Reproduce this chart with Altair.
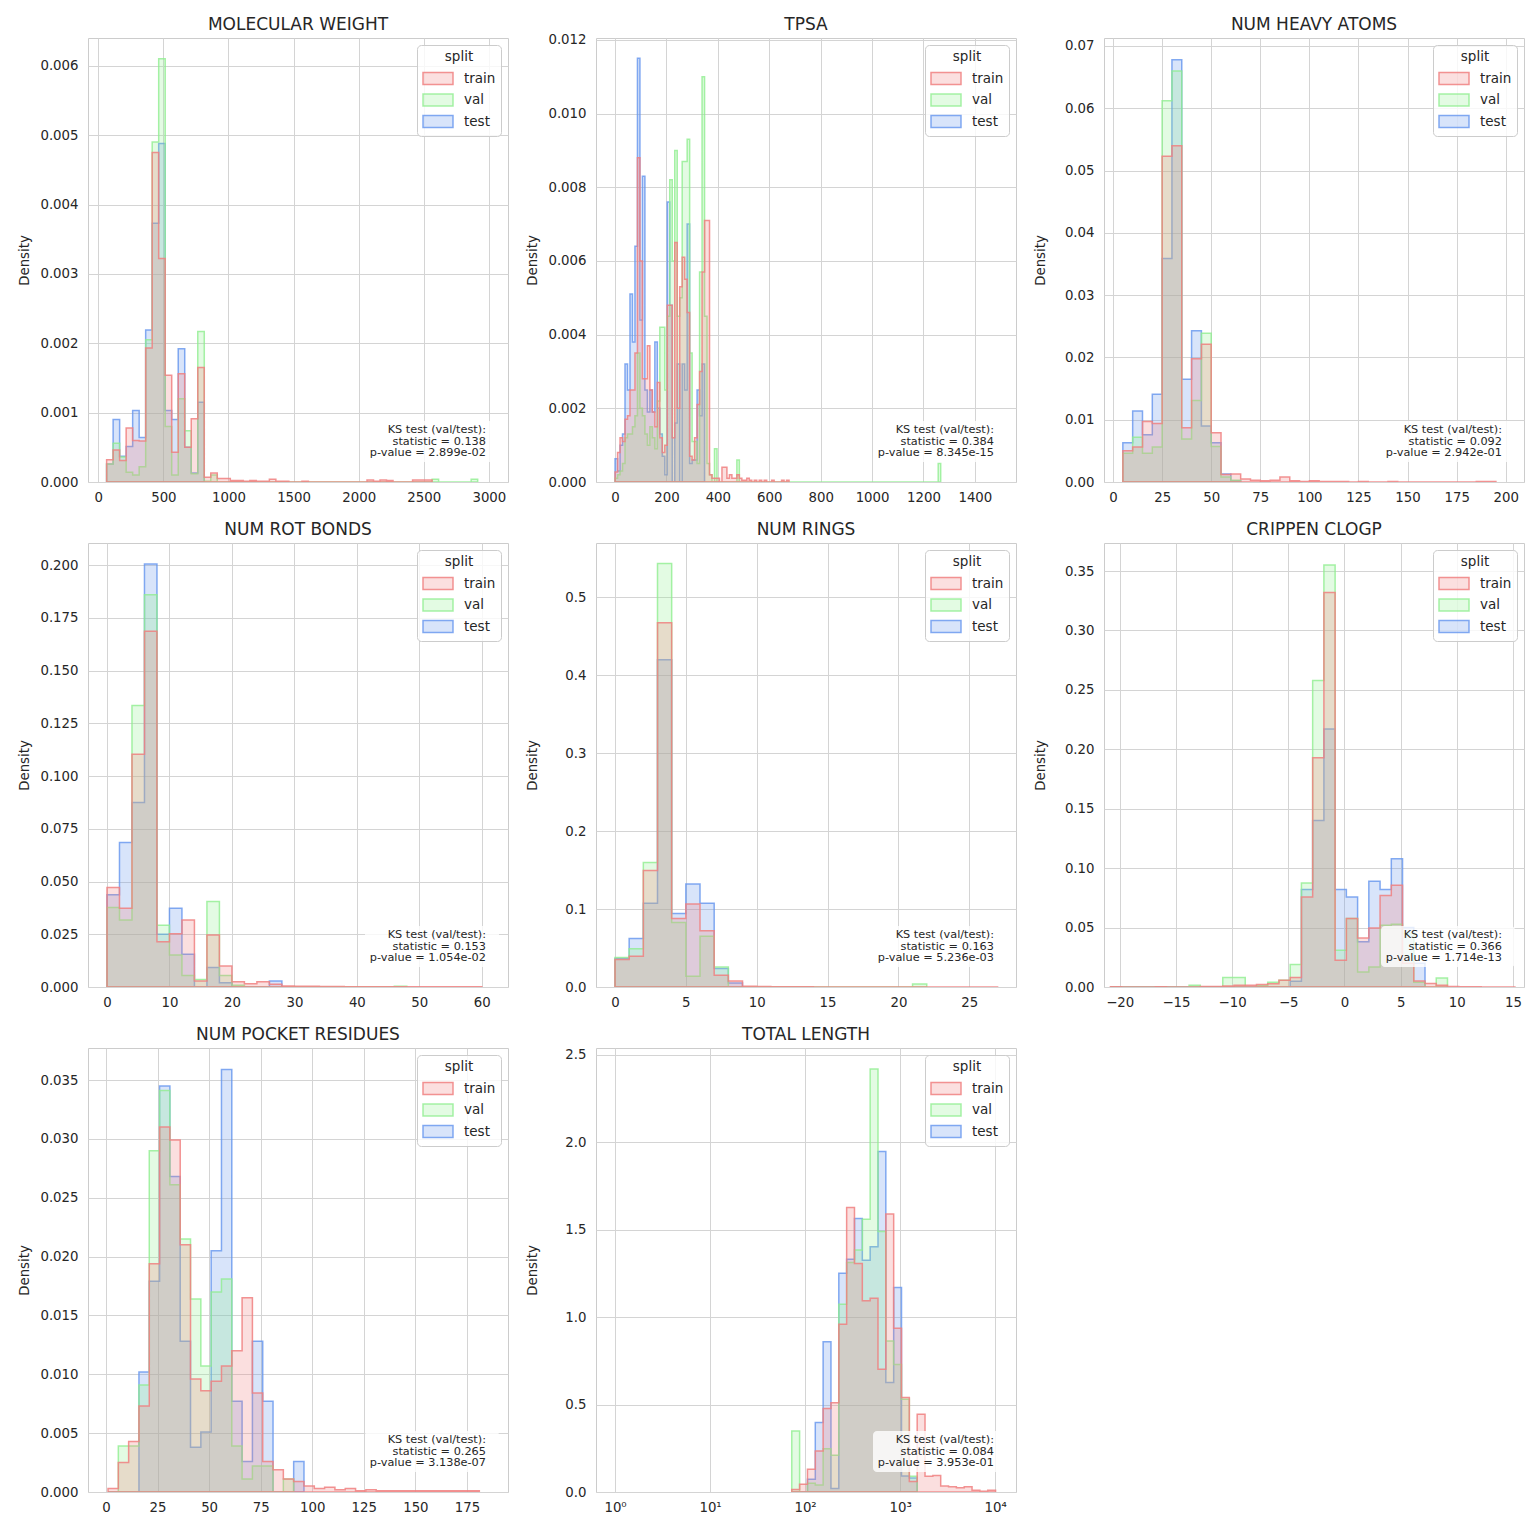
import altair as alt
import pandas as pd

FONT = "DejaVu Sans"
TEXT = "#262626"
GRID = "#d4d4d4"
W, H = 420, 444

SPLITS = ["train", "val", "test"]
SPLIT_FILL = ["rgba(240,128,128,0.25)", "rgba(144,238,144,0.25)", "rgba(100,149,237,0.25)"]
SPLIT_LINE = ["rgba(240,128,128,0.85)", "rgba(144,238,144,0.8)", "rgba(100,149,237,0.8)"]
DRAW_ORDER = ["test", "val", "train"]

TITLES = ["MOLECULAR WEIGHT", "TPSA", "NUM HEAVY ATOMS", "NUM ROT BONDS",
          "NUM RINGS", "CRIPPEN CLOGP", "NUM POCKET RESIDUES", "TOTAL LENGTH"]
TITLE_DY = [0, 5, 0, 0, 0, 0, 0, 0]

# histogram bins: first edge and bin width (TOTAL LENGTH in log10 units)
BIN_START = [64, 0.2, 5, 0, 0, -20.83, 1, 1.86]
BIN_WIDTH = [50, 9.67, 5, 2, 1, 1, 5, 0.0825]
LOG_X = [False, False, False, False, False, False, False, True]

MW_TRAIN = [0.00032, 0.00046, 0.00031, 0.00078, 0.00060, 0.00059, 0.00193, 0.00475, 0.00322, 0.00154,
            0.00043, 0.00156, 0.00050, 0.00091, 0.00165, 0.00007, 0.00013, 0.00005, 0.00005, 0.00002,
            0.00002, 0.00001, 0.00002, 0.00001, 0.00001, 0.00004, 0.00001, 0.00001, 0.0, 0.0,
            0.00001, 0.0, 0.0, 0.0, 0.0, 0.0, 0.0, 0.0, 0.0, 0.0,
            0.00003, 0.00001, 0.00003, 0.00002, 0.0, 0.0, 0.0, 0.00003, 0.00003, 0.00003]
MW_VAL = [0.00026, 0.00056, 0.00036, 0.00014, 0.00010, 0.00022, 0.00205, 0.00490, 0.00610, 0.00080,
          0.00010, 0.00120, 0.00074, 0.00012, 0.00217, 0.00001, 0.00010, 0.0, 0.0, 0.0,
          0.0, 0.0, 0.0, 0.0, 0.0, 0.0, 0.0, 0.0, 0.0, 0.0,
          0.0, 0.0, 0.0, 0.0, 0.0, 0.0, 0.0, 0.0, 0.0, 0.0,
          0.0, 0.0, 0.0, 0.0, 0.0, 0.0, 0.0, 0.0, 0.0, 0.0,
          0.00004, 0.0, 0.0, 0.0, 0.0, 0.0, 0.00004]
MW_TEST = [0.00026, 0.00090, 0.00037, 0.00051, 0.00103, 0.00064, 0.00219, 0.00373, 0.00488, 0.00103,
           0.00090, 0.00192, 0.00050, 0.00013, 0.00115]

TPSA_TRAIN = [0.00027, 0.0008, 0.0012, 0.0011, 0.0017, 0.0018, 0.0025, 0.0025, 0.0035, 0.0088,
              0.0060, 0.0028, 0.0028, 0.0037, 0.0025, 0.0019, 0.0015, 0.0027, 0.0012, 0.0008,
              0.0010, 0.0048, 0.0048, 0.0012, 0.0065, 0.0020, 0.0053, 0.0061, 0.0055, 0.0046,
              0.0007, 0.0006, 0.0012, 0.0021, 0.0030, 0.0057, 0.0071, 0.0071, 0.0002, 0.0001,
              0.0001, 0.0001, 0.0, 0.0004, 0.0004, 0.0001, 0.0002, 0.0001, 0.0001, 0.0002,
              0.0001, 0.00005, 0.00005, 0.0001, 0.00005, 0.0, 0.00005, 0.0, 0.00005, 0.0,
              0.00005, 0.0, 0.0, 0.00005, 0.0, 0.0, 0.0, 0.00005, 0.0, 0.00005]
TPSA_VAL = [0.0001, 0.0002, 0.0003, 0.0005, 0.0012, 0.0013, 0.0013, 0.0015, 0.0018, 0.0035,
            0.0020, 0.0018, 0.0013, 0.0010, 0.0015, 0.0012, 0.0009, 0.0022, 0.0042, 0.0042,
            0.0025, 0.0045, 0.0082, 0.0060, 0.0090, 0.0045, 0.0050, 0.0087, 0.0087, 0.0093,
            0.0035, 0.0011, 0.0011, 0.0005, 0.0057, 0.0110, 0.0045, 0.0005, 0.0002, 0.0,
            0.0009, 0.0, 0.0, 0.0, 0.0, 0.0, 0.0, 0.0, 0.0, 0.0006,
            0.0, 0.0, 0.0, 0.0, 0.0, 0.0, 0.0, 0.0, 0.0, 0.0,
            0.0, 0.0, 0.0, 0.0, 0.0, 0.0, 0.0, 0.0, 0.0, 0.0,
            0.0, 0.0, 0.0, 0.0, 0.0, 0.0, 0.0, 0.0, 0.0, 0.0,
            0.0, 0.0, 0.0, 0.0, 0.0, 0.0, 0.0, 0.0, 0.0, 0.0,
            0.0, 0.0, 0.0, 0.0, 0.0, 0.0, 0.0, 0.0, 0.0, 0.0,
            0.0, 0.0, 0.0, 0.0, 0.0, 0.0, 0.0, 0.0, 0.0, 0.0,
            0.0, 0.0, 0.0, 0.0, 0.0, 0.0, 0.0, 0.0, 0.0, 0.0,
            0.0, 0.0, 0.0, 0.0, 0.0, 0.0, 0.0, 0.0, 0.0, 0.0,
            0.0005]
TPSA_TEST = [0.00063, 0.0003, 0.0010, 0.0013, 0.0032, 0.0025, 0.0051, 0.0038, 0.0064, 0.0115,
             0.0044, 0.0083, 0.0025, 0.0019, 0.0025, 0.0019, 0.0038, 0.0020, 0.0013, 0.0007,
             0.0002, 0.0076, 0.0048, 0.0, 0.0016, 0.0032, 0.0, 0.0032, 0.0025, 0.0070,
             0.0005, 0.0006, 0.0006, 0.0025, 0.0018, 0.0032]

HA_TRAIN = [0.0050, 0.0056, 0.0097, 0.0094, 0.0523, 0.0540, 0.0087, 0.0198, 0.0221, 0.0079,
            0.0012, 0.0013, 0.0005, 0.0003, 0.0002, 0.0003, 0.0008, 0.0002, 0.0001, 0.0002,
            0.0001, 0.0001, 0.0001, 0.0, 0.0001, 0.0, 0.0, 0.0001, 0.0, 0.0,
            0.0, 0.0, 0.0, 0.0, 0.0, 0.0, 0.0001, 0.0001]
HA_VAL = [0.0046, 0.0072, 0.0046, 0.0056, 0.0612, 0.0660, 0.0069, 0.0131, 0.0239, 0.0057,
          0.0008, 0.0003]
HA_TEST = [0.0063, 0.0114, 0.0076, 0.0141, 0.0359, 0.0678, 0.0165, 0.0243, 0.0090, 0.0063,
           0.0013, 0.0002]

RB_TRAIN = [0.0472, 0.0373, 0.1104, 0.1687, 0.0214, 0.0253, 0.0318, 0.0028, 0.0247, 0.0100,
            0.0025, 0.0016, 0.0025, 0.0013, 0.0005, 0.0004, 0.0003, 0.0002, 0.0002, 0.0001,
            0.0001, 0.0001, 0.0001, 0.0001, 0.0001, 0.0001, 0.0001, 0.0001, 0.0001, 0.0001]
RB_VAL = [0.0377, 0.0318, 0.1334, 0.1860, 0.0293, 0.0152, 0.0055, 0.0036, 0.0405, 0.0055,
          0.0008, 0.0, 0.0, 0.0, 0.0, 0.0, 0.0, 0.0, 0.0, 0.0,
          0.0, 0.0, 0.0, 0.0004]
RB_TEST = [0.0437, 0.0685, 0.0875, 0.2005, 0.0250, 0.0373, 0.0155, 0.0, 0.0092, 0.0020,
           0.0, 0.0, 0.0, 0.0028]

RG_TRAIN = [0.0352, 0.0395, 0.1494, 0.4670, 0.0880, 0.1064, 0.0721, 0.0150, 0.0077, 0.0010,
            0.0005, 0.0003, 0.0002, 0.0002, 0.0001, 0.0001, 0.0001, 0.0001, 0.0001, 0.0001,
            0.0001, 0.0001, 0.0001, 0.0001, 0.0001, 0.0001, 0.0001]
RG_VAL = [0.0378, 0.0489, 0.1597, 0.5430, 0.0828, 0.0137, 0.0650, 0.0258, 0.0, 0.0,
          0.0, 0.0, 0.0, 0.0, 0.0, 0.0, 0.0, 0.0, 0.0, 0.0,
          0.0, 0.0040]
RG_TEST = [0.0365, 0.0622, 0.1073, 0.4197, 0.0944, 0.1322, 0.1073, 0.0236, 0.0050]

CL_TRAIN = [0.0003, 0.0, 0.0, 0.0, 0.0003, 0.0, 0.0, 0.0, 0.0005, 0.0005,
            0.0008, 0.0014, 0.0014, 0.0020, 0.0028, 0.0056, 0.0079, 0.0758, 0.1930, 0.3320,
            0.0225, 0.0576, 0.0413, 0.0497, 0.0770, 0.0857, 0.0200, 0.0050, 0.0030, 0.0014,
            0.0005, 0.0003, 0.0002, 0.0001, 0.0001, 0.0001]
CL_VAL = [0.0, 0.0, 0.0, 0.0, 0.0, 0.0, 0.0, 0.0014, 0.0, 0.0,
          0.0079, 0.0079, 0.0, 0.0010, 0.0040, 0.0056, 0.0190, 0.0876, 0.2580, 0.3550,
          0.0310, 0.0576, 0.0126, 0.0169, 0.0520, 0.0528, 0.0450, 0.0040, 0.0, 0.0076]
CL_TEST = [0.0, 0.0, 0.0, 0.0, 0.0, 0.0, 0.0, 0.0, 0.0, 0.0,
           0.0, 0.0, 0.0, 0.0, 0.0, 0.0, 0.0048, 0.0820, 0.1400, 0.2170,
           0.0820, 0.0758, 0.0380, 0.0890, 0.0820, 0.1080, 0.0500, 0.0200]

PR_TRAIN = [0.0003, 0.0025, 0.0043, 0.0073, 0.0194, 0.0310, 0.0299, 0.0210, 0.0096, 0.0086,
            0.0094, 0.0107, 0.0120, 0.0165, 0.0084, 0.0026, 0.0019, 0.0011, 0.0009, 0.0005,
            0.0003, 0.0004, 0.0002, 0.0003, 0.0001, 0.0002, 0.0001, 0.0001, 0.0001, 0.0001,
            0.0001, 0.0001, 0.0001, 0.0001, 0.0001, 0.0001]
PR_VAL = [0.0, 0.0039, 0.0039, 0.0091, 0.0290, 0.0341, 0.0261, 0.0215, 0.0164, 0.0107,
          0.0170, 0.0181, 0.0039, 0.0011, 0.0022, 0.0022, 0.0, 0.0011]
PR_TEST = [0.0, 0.0, 0.0, 0.0102, 0.0179, 0.0345, 0.0268, 0.0128, 0.0038, 0.0051,
           0.0205, 0.0359, 0.0077, 0.0026, 0.0128, 0.0077, 0.0, 0.0, 0.0026]

TL_TRAIN = [0.015, 0.044, 0.130, 0.235, 0.477, 0.511, 0.960, 1.628, 1.307, 1.094,
            1.109, 0.702, 1.590, 0.937, 0.540, 0.060, 0.445, 0.090, 0.095, 0.034,
            0.030, 0.025, 0.030, 0.010, 0.005, 0.010]
TL_VAL = [0.349, 0.0, 0.050, 0.040, 0.248, 0.210, 1.074, 1.313, 1.385, 1.561,
          2.420, 1.490, 0.864, 0.730, 0.530, 0.090]
TL_TEST = [0.0, 0.0, 0.073, 0.397, 0.859, 0.020, 1.252, 1.332, 1.565, 1.326,
           1.403, 1.948, 0.626, 1.170, 0.092, 0.080]

TRAIN = [MW_TRAIN, TPSA_TRAIN, HA_TRAIN, RB_TRAIN, RG_TRAIN, CL_TRAIN, PR_TRAIN, TL_TRAIN]
VAL = [MW_VAL, TPSA_VAL, HA_VAL, RB_VAL, RG_VAL, CL_VAL, PR_VAL, TL_VAL]
TEST = [MW_TEST, TPSA_TEST, HA_TEST, RB_TEST, RG_TEST, CL_TEST, PR_TEST, TL_TEST]

KS_STAT = ["0.138", "0.384", "0.092", "0.153", "0.163", "0.366", "0.265", "0.084"]
KS_P = ["2.899e-02", "8.345e-15", "2.942e-01", "1.054e-02", "5.236e-03", "1.714e-13", "3.138e-07", "3.953e-01"]

X_DOMAIN = [[-79, 3147], [-74, 1560], [-4.6, 209.3], [-3.04, 64.2], [-1.34, 28.3],
            [-21.4, 15.98], [-8.7, 194.9], [0.63, 16600]]
X_TICKS = [[0, 500, 1000, 1500, 2000, 2500, 3000],
           [0, 200, 400, 600, 800, 1000, 1200, 1400],
           [0, 25, 50, 75, 100, 125, 150, 175, 200],
           [0, 10, 20, 30, 40, 50, 60],
           [0, 5, 10, 15, 20, 25],
           [-20, -15, -10, -5, 0, 5, 10, 15],
           [0, 25, 50, 75, 100, 125, 150, 175],
           [1, 10, 100, 1000, 10000]]
Y_MAX = [0.0064, 0.01205, 0.07128, 0.2105, 0.5694, 0.3736, 0.03772, 2.54]
Y_TICKS = [[0.0, 0.001, 0.002, 0.003, 0.004, 0.005, 0.006],
           [0.0, 0.002, 0.004, 0.006, 0.008, 0.010, 0.012],
           [0.0, 0.01, 0.02, 0.03, 0.04, 0.05, 0.06, 0.07],
           [0.0, 0.025, 0.05, 0.075, 0.1, 0.125, 0.15, 0.175, 0.2],
           [0.0, 0.1, 0.2, 0.3, 0.4, 0.5],
           [0.0, 0.05, 0.1, 0.15, 0.2, 0.25, 0.3, 0.35],
           [0.0, 0.005, 0.01, 0.015, 0.02, 0.025, 0.03, 0.035],
           [0.0, 0.5, 1.0, 1.5, 2.0, 2.5]]
Y_FORMAT = [".3f", ".3f", ".2f", ".3f", ".1f", ".2f", ".3f", ".1f"]

FILL_SCALE = alt.Scale(domain=SPLITS, range=SPLIT_FILL)
LINE_SCALE = alt.Scale(domain=SPLITS, range=SPLIT_LINE)


def make_legend():
    return alt.Legend(
        title="split", orient="top-right", offset=7, padding=5,
        fillColor="rgba(255,255,255,0.8)", strokeColor="#cccccc", cornerRadius=4,
        titleAnchor="middle", titleFont=FONT, titleFontSize=13.5, titleFontWeight="normal",
        titleColor=TEXT, titlePadding=8, labelFont=FONT, labelFontSize=13.5, labelColor=TEXT,
        symbolType="M-2.5,-1H2.5V1H-2.5Z", symbolSize=144, symbolOffset=9,
        labelOffset=19, rowPadding=3.5, symbolStrokeWidth=1.5)


def panel(i):
    rows = []
    series = {"train": TRAIN[i], "val": VAL[i], "test": TEST[i]}
    for name in DRAW_ORDER:
        vals = series[name]
        n = len(vals)
        edges = [BIN_START[i] + k * BIN_WIDTH[i] for k in range(n + 1)]
        if LOG_X[i]:
            edges = [10 ** e for e in edges]
        pts = [(edges[0], 0.0)] + list(zip(edges[:n], vals)) + [(edges[n], vals[-1]), (edges[n], 0.0)]
        rows += [{"split": name, "x": x, "y": y} for x, y in pts]
    df = pd.DataFrame(rows)

    if LOG_X[i]:
        xscale = alt.Scale(type="log", domain=X_DOMAIN[i], nice=False, zero=False)
        xaxis = alt.Axis(title=None, values=X_TICKS[i], labelFlush=False, labelPadding=8,
                         labelExpr="'10' + ['⁰','¹','²','³','⁴'][round(log(datum.value)/LN10)]")
    else:
        xscale = alt.Scale(domain=X_DOMAIN[i], nice=False, zero=False)
        xaxis = alt.Axis(title=None, values=X_TICKS[i], format="d", labelFlush=False, labelPadding=8)
    yscale = alt.Scale(domain=[0, Y_MAX[i]], nice=False)
    yaxis = alt.Axis(title="Density", values=Y_TICKS[i], format=Y_FORMAT[i], labelPadding=10,
                     titleX=-57)

    area = alt.Chart(df).mark_area(
        interpolate="step-after", fillOpacity=1, strokeOpacity=1, strokeWidth=1.5, clip=True
    ).encode(
        x=alt.X("x:Q", scale=xscale, axis=xaxis),
        y=alt.Y("y:Q", stack=None, scale=yscale, axis=yaxis),
        fill=alt.Fill("split:N", scale=FILL_SCALE, legend=make_legend()),
        stroke=alt.Stroke("split:N", scale=LINE_SCALE, legend=make_legend()),
    )

    ks = pd.DataFrame({"label": [f"KS test (val/test):\nstatistic = {KS_STAT[i]}\np-value = {KS_P[i]}"]})
    box = alt.Chart(ks).mark_rect(fill="white", opacity=0.8, cornerRadius=4).encode(
        x=alt.value(W - 143), x2=alt.value(W - 9), y=alt.value(H - 61), y2=alt.value(H - 20))
    txt = alt.Chart(ks).mark_text(
        align="right", baseline="top", lineBreak="\n", fontSize=11.3, lineHeight=11.5,
        font=FONT, color=TEXT
    ).encode(x=alt.value(W - 22), y=alt.value(H - 58), text="label:N")

    return alt.layer(area, box, txt).properties(
        width=W, height=H,
        title=alt.TitleParams(TITLES[i], font=FONT, fontSize=17, fontWeight="normal",
                              color=TEXT, offset=4, dy=TITLE_DY[i], anchor="middle", frame="group"))


def resolve(c):
    return c.resolve_scale(x="independent", y="independent", fill="independent",
                           stroke="independent").resolve_legend(fill="independent", stroke="independent")


row_ids = [[0, 1, 2], [3, 4, 5], [6, 7]]
rows = [resolve(alt.hconcat(*[panel(i) for i in r], spacing=15)) for r in row_ids]

chart = resolve(alt.vconcat(*rows, spacing=16)).properties(
    padding={"left": 16, "top": 15, "right": 5, "bottom": 5},
    background="white",
).configure_view(
    stroke="#cccccc", strokeWidth=1
).configure_axis(
    grid=True, gridColor=GRID, gridWidth=1, domain=False, ticks=False,
    labelFont=FONT, labelFontSize=13.3, labelColor=TEXT,
    titleFont=FONT, titleFontSize=13.3, titleFontWeight="normal", titleColor=TEXT,
)

chart.save("out.html", embed_options={"renderer": "svg", "actions": False})
